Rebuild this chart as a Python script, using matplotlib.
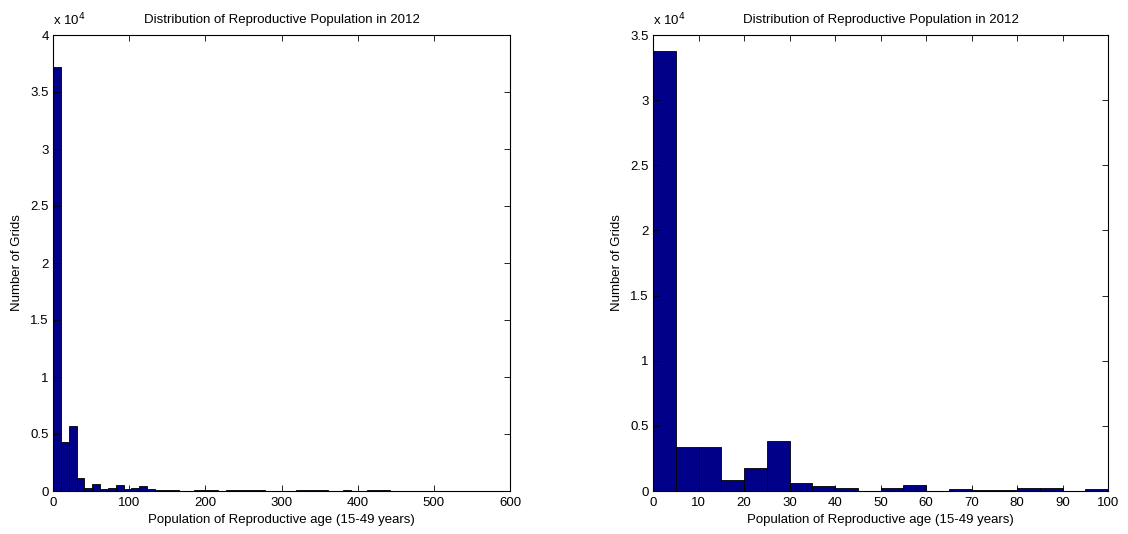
import matplotlib
matplotlib.use("Agg")
import matplotlib.pyplot as plt
import numpy as np

plt.rcParams['font.family'] = ['Liberation Sans', 'DejaVu Sans']

# Left histogram: bin width ~10.3, starting at 0
left_bin_width = 10.3
left_counts = [37200, 4300, 5670, 1170, 260, 640, 150, 260, 550, 200,
               290, 470, 150, 60, 120, 60, 20, 0, 60, 60,
               60, 0, 60, 60, 60, 60, 60, 0, 0, 0,
               20, 60, 60, 60, 60, 40, 40, 60, 30, 0,
               50, 60, 50]

# Right histogram: bin width 5, 0..100
right_bin_width = 5
right_counts = [33750, 3350, 3350, 830, 1800, 3870, 640, 390, 260, 20,
                210, 440, 0, 130, 100, 100, 260, 260, 0, 130]

title = "Distribution of Reproductive Population in 2012"
xlabel = "Population of Reproductive age (15-49 years)"
ylabel = "Number of Grids"

left_xticks = [0, 100, 200, 300, 400, 500, 600]
left_yticks = [0, 0.5, 1, 1.5, 2, 2.5, 3, 3.5, 4]
right_xticks = [0, 10, 20, 30, 40, 50, 60, 70, 80, 90, 100]
right_yticks = [0, 0.5, 1, 1.5, 2, 2.5, 3, 3.5]

bar_color = '#000088'
fs = 9.5

fig = plt.figure(figsize=(11.28, 5.34), dpi=100)
W, H = 1128, 534
axL = fig.add_axes([53 / W, (H - 491) / H, 457 / W, 456 / H])
axR = fig.add_axes([653 / W, (H - 491) / H, 455 / W, 456 / H])


def fmt(v):
    return '%g' % v


def draw(ax, counts, bw, xticks, yticks, xlim, ylim):
    counts = np.array(counts, dtype=float)
    lefts = np.arange(len(counts)) * bw
    ax.bar(lefts, counts / 1e4, width=bw, align='edge', color=bar_color,
           edgecolor='black', linewidth=0.6)
    ax.set_xlim(*xlim)
    ax.set_ylim(*ylim)
    ax.set_xticks(xticks)
    ax.set_xticklabels([fmt(t) for t in xticks], fontsize=fs)
    ax.set_yticks(yticks)
    ax.set_yticklabels([fmt(t) for t in yticks], fontsize=fs)
    ax.tick_params(direction='in', top=True, right=True, length=4, width=0.6,
                   colors='black')
    ax.tick_params(axis='x', pad=4)
    ax.tick_params(axis='y', pad=3)
    for sp in ax.spines.values():
        sp.set_linewidth(0.8)
    ax.set_title(title, fontsize=fs, pad=8.5)
    ax.set_xlabel(xlabel, fontsize=fs, labelpad=4)
    ax.set_ylabel(ylabel, fontsize=fs, labelpad=5)
    ax.text(0.0, 1.014, r'x 10$^{4}$', transform=ax.transAxes, fontsize=fs,
            ha='left', va='bottom')


draw(axL, left_counts, left_bin_width, left_xticks, left_yticks, (0, 600), (0, 4))
draw(axR, right_counts, right_bin_width, right_xticks, right_yticks, (0, 100), (0, 3.5))

fig.savefig('out.png', dpi=100)
